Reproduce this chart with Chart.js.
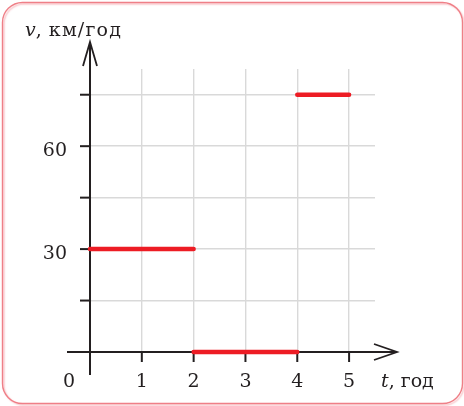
<!DOCTYPE html>
<html>
<head>
<meta charset="utf-8">
<script src="https://cdn.jsdelivr.net/npm/chart.js@4/dist/chart.umd.min.js"></script>
<style>
html,body{margin:0;padding:0;background:#fff;}
#wrap{width:464px;height:406px;position:relative;}
canvas{display:block;}
</style>
</head>
<body>
<div id="wrap"><canvas id="c" width="464" height="406"></canvas></div>
<script>
// Data: piecewise-constant speed
const segStart = [0, 2, 4];          // t, год
const segEnd   = [2, 4, 5];
const speeds   = [30, 0, 75];        // v, км/год
const xTickValues = [1, 2, 3, 4, 5];
const yTickValues = [15, 30, 45, 60, 75];
const yTickLabels = {30: '30', 60: '60'};
const xAxisTitle = 'год';
const yAxisTitle = 'км/год';

const lineData = [];
for (let i = 0; i < speeds.length; i++) {
  lineData.push({x: segStart[i], y: speeds[i]});
  lineData.push({x: segEnd[i], y: speeds[i]});
  lineData.push({x: segEnd[i], y: null});
}

const FONT = '"DejaVu Serif", "Liberation Serif", serif';
const AXIS = '#231f20';

function seg(ctx, x1, y1, x2, y2) {
  ctx.beginPath(); ctx.moveTo(x1, y1); ctx.lineTo(x2, y2); ctx.stroke();
}

const framePlugin = {
  id: 'frame',
  beforeDraw(chart) {
    const ctx = chart.ctx;
    ctx.save();
    ctx.fillStyle = '#fff';
    ctx.fillRect(0, 0, 464, 406);
    const x = 2.5, y = 2.5, w = 460, h = 401, r = 20;
    ctx.shadowColor = 'rgba(240,120,130,0.45)';
    ctx.shadowOffsetX = 1.5; ctx.shadowOffsetY = 1.5; ctx.shadowBlur = 1.5;
    ctx.strokeStyle = '#ef7f87';
    ctx.lineWidth = 1.4;
    ctx.beginPath();
    ctx.moveTo(x + r, y);
    ctx.lineTo(x + w - r, y);
    ctx.arcTo(x + w, y, x + w, y + r, r);
    ctx.lineTo(x + w, y + h - r);
    ctx.arcTo(x + w, y + h, x + w - r, y + h, r);
    ctx.lineTo(x + r, y + h);
    ctx.arcTo(x, y + h, x, y + h - r, r);
    ctx.lineTo(x, y + r);
    ctx.arcTo(x, y, x + r, y, r);
    ctx.closePath();
    ctx.stroke();
    ctx.restore();
  },
  beforeDatasetsDraw(chart) {
    const ctx = chart.ctx;
    const xs = chart.scales.x, ys = chart.scales.y;
    const x0 = xs.getPixelForValue(0), y0 = ys.getPixelForValue(0);
    ctx.save();
    ctx.strokeStyle = AXIS;
    ctx.lineWidth = 2;
    ctx.lineCap = 'butt';
    const yTop = 42, yBottom = y0 + 23;
    seg(ctx, x0, yBottom, x0, yTop);
    const xLeft = x0 - 23, xRight = 397;
    seg(ctx, xLeft, y0, xRight, y0);
    ctx.lineWidth = 1.8;
    ctx.beginPath();
    ctx.moveTo(x0 - 7, yTop + 24); ctx.lineTo(x0, yTop); ctx.lineTo(x0 + 7, yTop + 24);
    ctx.stroke();
    ctx.beginPath();
    ctx.moveTo(xRight - 23, y0 - 8); ctx.lineTo(xRight, y0); ctx.lineTo(xRight - 23, y0 + 8);
    ctx.stroke();
    ctx.lineWidth = 2;
    yTickValues.forEach(v => {
      const py = ys.getPixelForValue(v);
      seg(ctx, x0 - 10, py, x0, py);
    });
    xTickValues.forEach(v => {
      const px = xs.getPixelForValue(v);
      seg(ctx, px, y0, px, y0 + 10);
    });
    ctx.restore();
  },
  afterDraw(chart) {
    const ctx = chart.ctx;
    const xs = chart.scales.x, ys = chart.scales.y;
    const x0 = xs.getPixelForValue(0), y0 = ys.getPixelForValue(0);
    ctx.save();
    ctx.fillStyle = AXIS;
    ctx.font = '19px ' + FONT;
    ctx.textBaseline = 'alphabetic';
    ctx.textAlign = 'right';
    yTickValues.forEach(v => {
      if (yTickLabels[v]) ctx.fillText(yTickLabels[v], x0 - 23, ys.getPixelForValue(v) + 10);
    });
    ctx.textAlign = 'center';
    ctx.fillText('0', x0 - 21, y0 + 35);
    xTickValues.forEach(v => {
      ctx.fillText(String(v), xs.getPixelForValue(v), y0 + 35);
    });
    ctx.textAlign = 'left';
    ctx.font = 'italic 19px ' + FONT;
    ctx.fillText('t', 381, y0 + 35);
    let w = ctx.measureText('t').width;
    ctx.font = '19px ' + FONT;
    ctx.fillText(', ' + xAxisTitle, 381 + w, y0 + 35);

    ctx.font = 'italic 19px ' + FONT;
    ctx.fillText('v', 25, 36);
    w = ctx.measureText('v').width;
    ctx.font = '19px ' + FONT;
    ctx.fillText(',', 25 + w, 36);
    const wc = ctx.measureText(', ').width;
    ctx.letterSpacing = '1.2px';
    ctx.fillText(yAxisTitle, 25 + w + wc + 1, 36);
    ctx.restore();
  }
};

new Chart(document.getElementById('c'), {
  type: 'line',
  data: {
    datasets: [{
      data: lineData,
      borderColor: '#ed1c24',
      borderWidth: 4.5,
      borderCapStyle: 'round',
      pointRadius: 0,
      spanGaps: false,
      tension: 0,
      clip: false
    }]
  },
  options: {
    responsive: false,
    animation: false,
    devicePixelRatio: 1,
    layout: {padding: {left: 90, right: 89, top: 69, bottom: 54}},
    plugins: {legend: {display: false}, tooltip: {enabled: false}},
    scales: {
      x: {
        type: 'linear', min: 0, max: 5.5,
        ticks: {display: false, stepSize: 1, includeBounds: false},
        grid: {color: '#d9d9d9', lineWidth: 1.4, drawTicks: false},
        border: {display: false}
      },
      y: {
        type: 'linear', min: 0, max: 82.5,
        ticks: {display: false, stepSize: 15, includeBounds: false},
        grid: {color: '#d9d9d9', lineWidth: 1.4, drawTicks: false},
        border: {display: false}
      }
    }
  },
  plugins: [framePlugin]
});
</script>
</body>
</html>
